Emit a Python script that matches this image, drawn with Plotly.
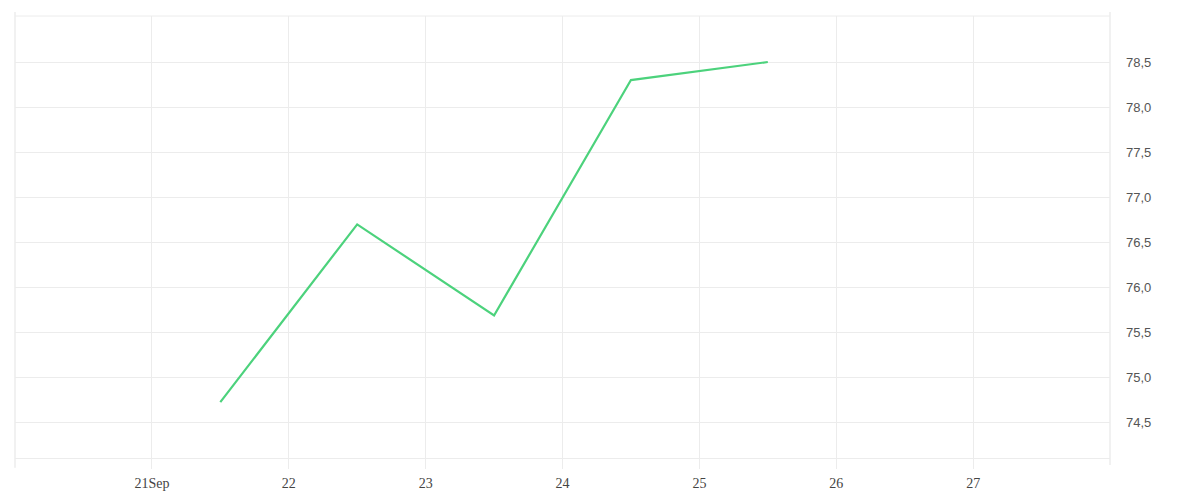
import plotly.graph_objects as go

dates = ["2023-09-21 12:00", "2023-09-22 12:00", "2023-09-23 12:00",
         "2023-09-24 12:00", "2023-09-25 12:00"]
values = [74.73, 76.70, 75.69, 78.30, 78.50]

x_tickvals = ["2023-09-21", "2023-09-22", "2023-09-23", "2023-09-24",
              "2023-09-25", "2023-09-26", "2023-09-27"]
x_ticktext = ["21Sep", "22", "23", "24", "25", "26", "27"]
y_tickvals = [74.5, 75.0, 75.5, 76.0, 76.5, 77.0, 77.5, 78.0, 78.5]

grid = "#ececec"

fig = go.Figure()
fig.add_trace(go.Scatter(x=dates, y=values, mode="lines",
                         line=dict(color="#4cd27c", width=2.2),
                         hoverinfo="x+y"))

fig.update_layout(
    width=1200, height=500,
    margin=dict(l=7, r=98, t=8, b=50),
    plot_bgcolor="white", paper_bgcolor="white",
    separators=",.",
    showlegend=False,
    xaxis=dict(
        range=["2023-09-20", "2023-09-28"],
        tickvals=x_tickvals, ticktext=x_ticktext,
        showgrid=True, gridcolor=grid, gridwidth=1,
        ticks="outside", ticklen=10, tickcolor=grid, tickwidth=1,
        showline=True, linecolor=grid, linewidth=1,
        zeroline=False,
        tickfont=dict(family="Liberation Serif, serif", size=14, color="#444444"),
        ticklabelstandoff=2,
    ),
    yaxis=dict(
        side="right",
        range=[74.11, 79.01],
        tickvals=y_tickvals, tickformat=".1f",
        showgrid=True, gridcolor=grid, gridwidth=1,
        zeroline=False,
        showline=False,
        ticks="", ticklabelstandoff=15,
        tickfont=dict(family="Liberation Sans, Arial, sans-serif", size=13, color="#555555"),
    ),
    shapes=[
        dict(type="line", xref="paper", yref="paper", x0=0, x1=1, y0=1, y1=1,
             line=dict(color=grid, width=1), layer="below"),
        dict(type="line", xref="paper", yref="paper", x0=0, x1=0, y0=-0.022, y1=1.009,
             line=dict(color=grid, width=1.5), layer="below"),
        dict(type="line", xref="paper", yref="paper", x0=1, x1=1, y0=-0.016, y1=1.009,
             line=dict(color=grid, width=1.5), layer="below"),
    ],
)

fig.write_html("out.html")
